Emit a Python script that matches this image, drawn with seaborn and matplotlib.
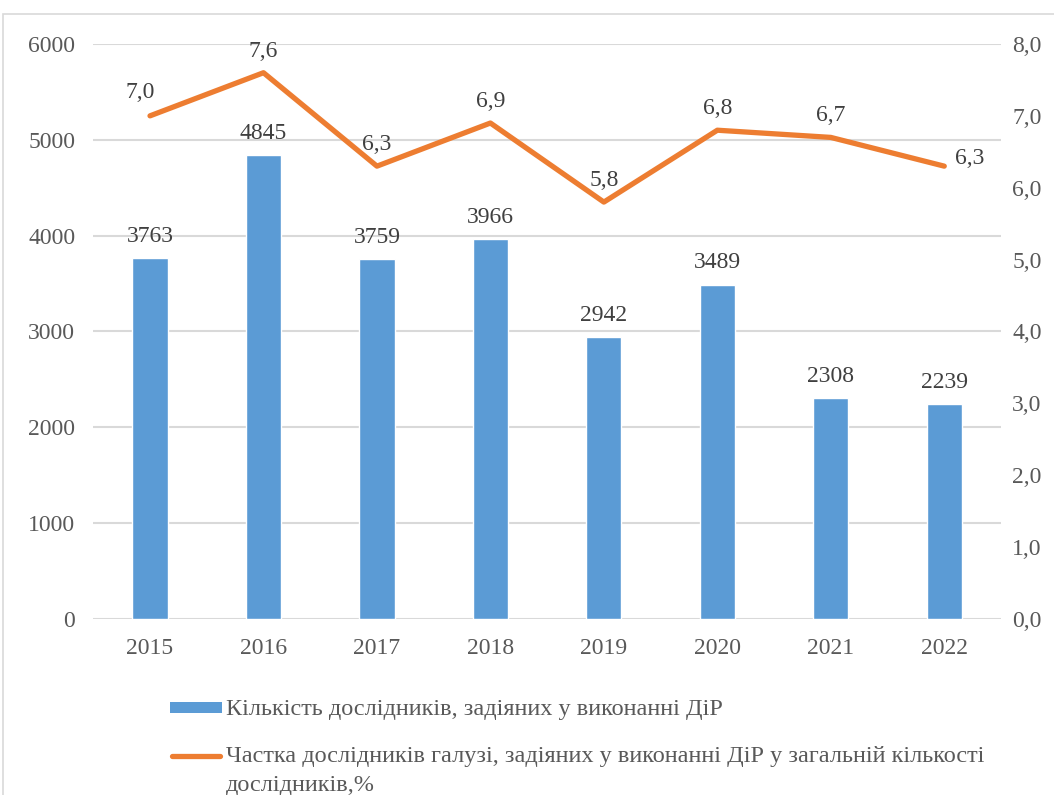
import matplotlib
matplotlib.use("Agg")
import matplotlib.pyplot as plt
from matplotlib.patches import Rectangle
from matplotlib.lines import Line2D
from matplotlib.ticker import FuncFormatter, MultipleLocator
import seaborn as sns
import pandas as pd
import numpy as np

years = ["2015", "2016", "2017", "2018", "2019", "2020", "2021", "2022"]
researchers = [3763, 4845, 3759, 3966, 2942, 3489, 2308, 2239]
share = [7.0, 7.6, 6.3, 6.9, 5.8, 6.8, 6.7, 6.3]
label_bar = "Кількість дослідників, задіяних у виконанні ДіР"
label_line = "Частка дослідників галузі, задіяних у виконанні ДіР у загальній кількості\nдослідників,%"

sns.set_theme(style="white")
plt.rcParams["font.family"] = ["Liberation Serif", "DejaVu Serif"]

BLUE = "#5B9BD5"
ORANGE = "#ED7D31"
GRID = "#D9D9D9"
TICK = "#595959"
LAB = "#404040"
FS = 17

fig = plt.figure(figsize=(10.54, 7.95), dpi=100)
ax = fig.add_axes([0.0885, 0.2214, 0.8612, 0.7233])

df = pd.DataFrame({"year": years, "n": researchers})
sns.barplot(data=df, x="year", y="n", color=BLUE, width=0.31, saturation=1, ax=ax)
ax.set_ylim(0, 6000)
ax.set_xlim(-0.5, len(years) - 0.5)
ax.yaxis.set_major_locator(MultipleLocator(1000))
ax.grid(axis="y", color=GRID, linewidth=1.5)
ax.set_axisbelow(True)
for s in ax.spines.values():
    s.set_visible(False)
ax.set_xlabel("")
ax.set_ylabel("")
ax.tick_params(axis="y", labelsize=FS, labelcolor=TICK, length=0, pad=13)
ax.tick_params(axis="x", labelsize=FS, labelcolor=TICK, length=0, pad=14)
for i, v in enumerate(researchers):
    ax.annotate(str(v), (i, v), xytext=(0, 8), textcoords="offset points",
                ha="center", va="bottom", fontsize=FS, color=LAB)

ax2 = ax.twinx()
sns.lineplot(x=np.arange(len(years)), y=share, color=ORANGE, linewidth=3.8, ax=ax2,
             solid_capstyle="round")
ax2.set_ylim(0, 8)
ax2.yaxis.set_major_locator(MultipleLocator(1))
ax2.yaxis.set_major_formatter(FuncFormatter(lambda v, p: f"{v:.1f}".replace(".", ",")))
ax2.tick_params(axis="y", labelsize=FS, labelcolor=TICK, length=0, pad=8)
ax2.grid(False)
for s in ax2.spines.values():
    s.set_visible(False)
n = len(share)
for i, v in enumerate(share):
    txt = f"{v:.1f}".replace(".", ",")
    if i == n - 1:
        ax2.annotate(txt, (i, v), xytext=(8, -2), textcoords="offset points",
                     ha="left", va="bottom", fontsize=FS, color=LAB)
    elif i == 0:
        ax2.annotate(txt, (i, v), xytext=(-7, 9), textcoords="offset points",
                     ha="center", va="bottom", fontsize=FS, color=LAB)
    else:
        ax2.annotate(txt, (i, v), xytext=(0, 8), textcoords="offset points",
                     ha="center", va="bottom", fontsize=FS, color=LAB)

# legend (drawn in figure pixel coordinates)
W, H = 1054, 795
def fx(px):
    return px / W
def fy(py):
    return 1 - py / H

LFS = 17.5
fig.patches.append(Rectangle((fx(170), fy(713)), fx(222) - fx(170), (713 - 702) / H,
                             transform=fig.transFigure, facecolor=BLUE, edgecolor="none"))
fig.text(fx(226), fy(710), label_bar, fontsize=LFS, color=TICK, ha="left", va="center")
fig.lines.append(Line2D([fx(172), fx(220)], [fy(756), fy(756)], transform=fig.transFigure,
                        color=ORANGE, linewidth=3.8, solid_capstyle="round"))
fig.text(fx(226), fy(746), label_line, fontsize=LFS, color=TICK, ha="left", va="top",
         linespacing=1.5)

fig.patches.append(Rectangle((3 / W, -0.1), 1.2, 1 - 14 / H + 0.1,
                             transform=fig.transFigure, fill=False,
                             edgecolor=GRID, linewidth=1.2))

fig.savefig("out.png", dpi=100)
